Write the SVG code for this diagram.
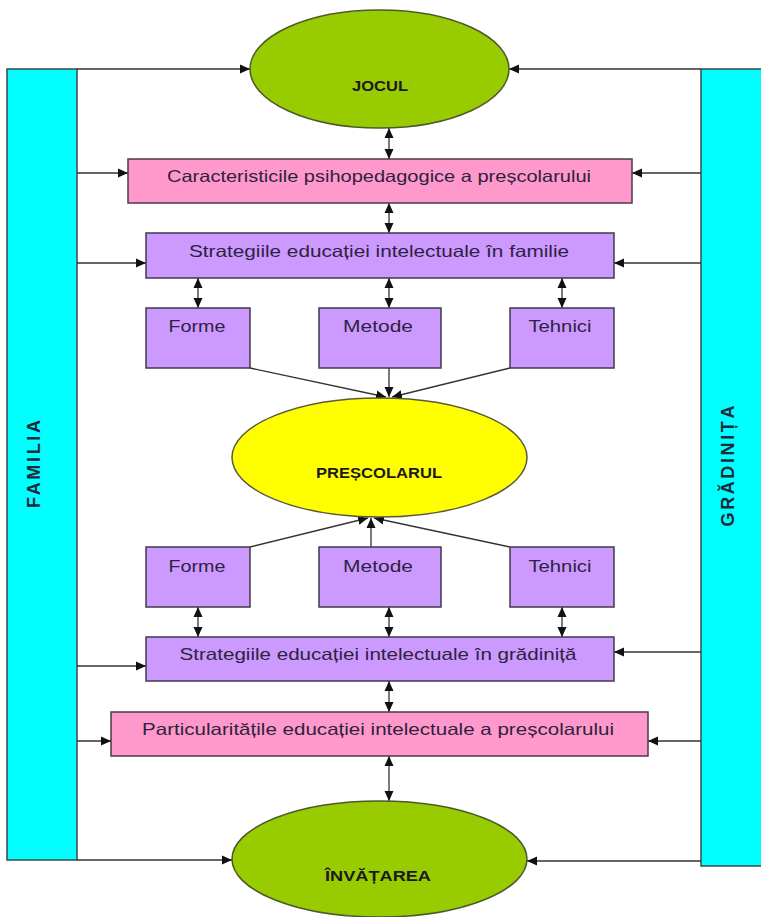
<svg xmlns="http://www.w3.org/2000/svg" width="761" height="917" viewBox="0 0 761 917">
  <style>
    .bar { fill: #00FFFF; stroke: #3a4a4a; stroke-width: 1.5; }
    .green { fill: #99CC00; stroke: #4a5a2a; stroke-width: 1.5; }
    .yellow { fill: #FFFF00; stroke: #5a5a3a; stroke-width: 1.5; }
    .pink { fill: #FF99CC; stroke: #4a3a4a; stroke-width: 1.5; }
    .purple { fill: #CC99FF; stroke: #3f3a4a; stroke-width: 1.5; }
    .lbl { font-family: "Liberation Sans", "DejaVu Sans", sans-serif; font-size: 16.5px; fill: #2e2240; text-anchor: middle; }
    .big { font-family: "Liberation Sans", "DejaVu Sans", sans-serif; font-size: 14px; font-weight: bold; fill: #1a1a1a; text-anchor: middle; }
    .side { font-family: "Liberation Sans", "DejaVu Sans", sans-serif; font-size: 18px; font-weight: bold; fill: #1f2a3a; text-anchor: middle; }
    .conn line { stroke: #333; stroke-width: 1.3; fill: none; }
  </style>
  <defs>
    <marker id="arr" markerUnits="userSpaceOnUse" markerWidth="12" markerHeight="12" refX="10" refY="6" orient="auto-start-reverse">
      <path d="M0,1.5 L10,6 L0,10.5 Z" fill="#111"/>
    </marker>
  </defs>

  <rect width="761" height="917" fill="#ffffff"/>

  <!-- side bars -->
  <g id="familia">
    <rect class="bar" x="7" y="69" width="70" height="791"/>
    <text class="side" transform="translate(40,464) rotate(-90)" textLength="88" lengthAdjust="spacing">FAMILIA</text>
  </g>
  <g id="gradinita">
    <rect class="bar" x="701" y="69" width="70" height="797"/>
    <text class="side" transform="translate(734,466) rotate(-90)" textLength="121" lengthAdjust="spacing">GRĂDINIȚA</text>
  </g>

  <!-- connectors -->
  <g class="conn">
    <!-- from FAMILIA -->
    <line x1="77" y1="69" x2="250" y2="69" marker-end="url(#arr)"/>
    <line x1="77" y1="173" x2="128" y2="173" marker-end="url(#arr)"/>
    <line x1="77" y1="263" x2="146" y2="263" marker-end="url(#arr)"/>
    <line x1="77" y1="666" x2="146" y2="666" marker-end="url(#arr)"/>
    <line x1="77" y1="741" x2="111" y2="741" marker-end="url(#arr)"/>
    <line x1="77" y1="860" x2="232" y2="860" marker-end="url(#arr)"/>
    <!-- from GRĂDINIȚA -->
    <line x1="701" y1="69" x2="509" y2="69" marker-end="url(#arr)"/>
    <line x1="701" y1="173" x2="632" y2="173" marker-end="url(#arr)"/>
    <line x1="701" y1="263" x2="614" y2="263" marker-end="url(#arr)"/>
    <line x1="701" y1="652" x2="614" y2="652" marker-end="url(#arr)"/>
    <line x1="701" y1="741" x2="648" y2="741" marker-end="url(#arr)"/>
    <line x1="701" y1="861" x2="527" y2="861" marker-end="url(#arr)"/>
    <!-- central column, two-way -->
    <line x1="389" y1="128" x2="389" y2="159" marker-start="url(#arr)" marker-end="url(#arr)"/>
    <line x1="389" y1="203" x2="389" y2="233" marker-start="url(#arr)" marker-end="url(#arr)"/>
    <line x1="198" y1="278" x2="198" y2="308" marker-start="url(#arr)" marker-end="url(#arr)"/>
    <line x1="389" y1="278" x2="389" y2="308" marker-start="url(#arr)" marker-end="url(#arr)"/>
    <line x1="562" y1="278" x2="562" y2="308" marker-start="url(#arr)" marker-end="url(#arr)"/>
    <line x1="198" y1="607" x2="198" y2="637" marker-start="url(#arr)" marker-end="url(#arr)"/>
    <line x1="389" y1="607" x2="389" y2="637" marker-start="url(#arr)" marker-end="url(#arr)"/>
    <line x1="562" y1="607" x2="562" y2="637" marker-start="url(#arr)" marker-end="url(#arr)"/>
    <line x1="389" y1="681" x2="389" y2="712" marker-start="url(#arr)" marker-end="url(#arr)"/>
    <line x1="389" y1="756" x2="389" y2="801" marker-start="url(#arr)" marker-end="url(#arr)"/>
    <!-- into PREȘCOLARUL from above -->
    <line x1="250" y1="368" x2="386" y2="397" marker-end="url(#arr)"/>
    <line x1="389" y1="368" x2="389" y2="397" marker-end="url(#arr)"/>
    <line x1="510" y1="368" x2="392" y2="397" marker-end="url(#arr)"/>
    <!-- into PREȘCOLARUL from below -->
    <line x1="250" y1="547" x2="368" y2="518" marker-end="url(#arr)"/>
    <line x1="371" y1="547" x2="371" y2="518" marker-end="url(#arr)"/>
    <line x1="510" y1="547" x2="374" y2="518" marker-end="url(#arr)"/>
  </g>

  <!-- nodes -->
  <g id="jocul">
    <ellipse class="green" cx="379.5" cy="69" rx="129.5" ry="59"/>
    <text class="big" x="380" y="91" textLength="56" lengthAdjust="spacingAndGlyphs">JOCUL</text>
  </g>
  <g id="caracteristici">
    <rect class="pink" x="128" y="159" width="504" height="44"/>
    <text class="lbl" x="379" y="182" textLength="424" lengthAdjust="spacingAndGlyphs">Caracteristicile psihopedagogice a preșcolarului</text>
  </g>
  <g id="strategii-familie">
    <rect class="purple" x="146" y="233" width="468" height="45"/>
    <text class="lbl" x="379" y="257" textLength="380" lengthAdjust="spacingAndGlyphs">Strategiile educației intelectuale în familie</text>
  </g>
  <g id="forme-sus">
    <rect class="purple" x="146" y="308" width="104" height="60"/>
    <text class="lbl" x="197" y="332" textLength="57" lengthAdjust="spacingAndGlyphs">Forme</text>
  </g>
  <g id="metode-sus">
    <rect class="purple" x="319" y="308" width="122" height="60"/>
    <text class="lbl" x="378" y="332" textLength="70" lengthAdjust="spacingAndGlyphs">Metode</text>
  </g>
  <g id="tehnici-sus">
    <rect class="purple" x="510" y="308" width="104" height="60"/>
    <text class="lbl" x="560" y="332" textLength="63" lengthAdjust="spacingAndGlyphs">Tehnici</text>
  </g>
  <g id="prescolarul">
    <ellipse class="yellow" cx="379.5" cy="457.5" rx="147.5" ry="59.5"/>
    <text class="big" x="379" y="478" textLength="126" lengthAdjust="spacingAndGlyphs">PREȘCOLARUL</text>
  </g>
  <g id="forme-jos">
    <rect class="purple" x="146" y="547" width="104" height="60"/>
    <text class="lbl" x="197" y="572" textLength="57" lengthAdjust="spacingAndGlyphs">Forme</text>
  </g>
  <g id="metode-jos">
    <rect class="purple" x="319" y="547" width="122" height="60"/>
    <text class="lbl" x="378" y="572" textLength="70" lengthAdjust="spacingAndGlyphs">Metode</text>
  </g>
  <g id="tehnici-jos">
    <rect class="purple" x="510" y="547" width="104" height="60"/>
    <text class="lbl" x="560" y="572" textLength="63" lengthAdjust="spacingAndGlyphs">Tehnici</text>
  </g>
  <g id="strategii-gradinita">
    <rect class="purple" x="146" y="637" width="468" height="44"/>
    <text class="lbl" x="378" y="660" textLength="397" lengthAdjust="spacingAndGlyphs">Strategiile educației intelectuale în grădiniță</text>
  </g>
  <g id="particularitati">
    <rect class="pink" x="111" y="712" width="537" height="44"/>
    <text class="lbl" x="378" y="735" textLength="472" lengthAdjust="spacingAndGlyphs">Particularitățile educației intelectuale a preșcolarului</text>
  </g>
  <g id="invatarea">
    <ellipse class="green" cx="379.5" cy="859" rx="147.5" ry="58"/>
    <text class="big" x="378" y="881" textLength="106" lengthAdjust="spacingAndGlyphs">ÎNVĂȚAREA</text>
  </g>
</svg>
